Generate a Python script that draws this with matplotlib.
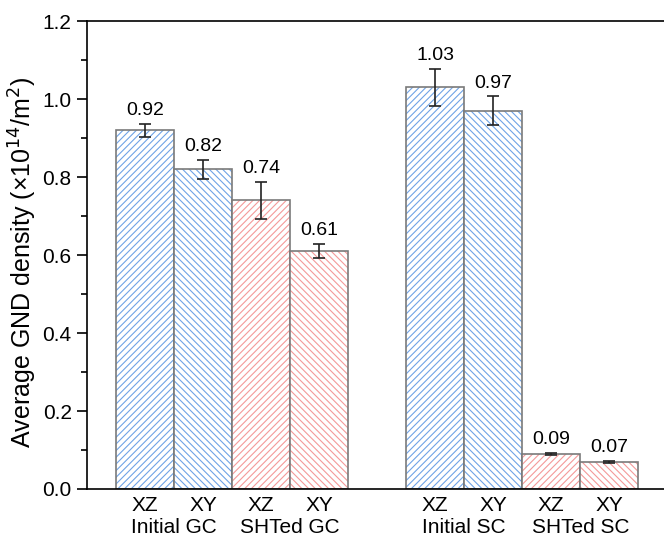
import numpy as np
import matplotlib.pyplot as plt
from matplotlib.ticker import MultipleLocator

plt.rcParams['font.family'] = ['Liberation Sans', 'DejaVu Sans']
plt.rcParams['hatch.linewidth'] = 0.8

# GND density per sample and plane
groups = ["Initial GC", "SHTed GC", "Initial SC", "SHTed SC"]
planes = ["XZ", "XY", "XZ", "XY", "XZ", "XY", "XZ", "XY"]
values = [0.92, 0.82, 0.74, 0.61, 1.03, 0.97, 0.09, 0.07]
errors = [0.016, 0.024, 0.048, 0.018, 0.048, 0.037, 0.003, 0.003]

pos = np.array([0, 1, 2, 3, 5, 6, 7, 8])
blue = "#6fa3e6"
red = "#f49a9a"
hatch_colors = [blue, blue, red, red, blue, blue, red, red]
hatches = ["/////", "\\\\\\\\\\", "/////", "\\\\\\\\\\"] * 2

fig = plt.figure(figsize=(6.64, 5.39), dpi=100)
ax = fig.add_axes([0.131, 0.0928, 0.874, 0.868])

for x, v, e, c, h in zip(pos, values, errors, hatch_colors, hatches):
    ax.bar(x, v, width=1.0, facecolor="white", edgecolor=c, hatch=h,
           linewidth=0)
    ax.bar(x, v, width=1.0, facecolor="none", edgecolor="#7a7a7a",
           linewidth=1.2)
    ax.errorbar(x, v, yerr=e, fmt="none", ecolor="#222222", elinewidth=1.2,
                capsize=4, capthick=1.2)
    ax.text(x, v + e + 0.012, f"{v:.2f}", ha="center", va="bottom",
            fontsize=14)

ax.set_xlim(-1, 9)
ax.set_ylim(0, 1.2)
ax.set_xticks(pos)
ax.set_xticklabels(planes, fontsize=15)
ax.tick_params(axis="x", length=0, pad=5)
ax.yaxis.set_major_locator(MultipleLocator(0.2))
ax.yaxis.set_minor_locator(MultipleLocator(0.1))
ax.yaxis.set_major_formatter(plt.FormatStrFormatter("%.1f"))
ax.tick_params(axis="y", which="major", direction="out", length=7,
               width=1.2, labelsize=15, pad=4)
ax.tick_params(axis="y", which="minor", direction="out", length=4, width=1.2)
for s in ax.spines.values():
    s.set_linewidth(1.2)

# group names under the plane labels
for g, x in zip(groups, [0.5, 2.5, 5.5, 7.5]):
    ax.text(x, -0.098, g, ha="center", va="center", fontsize=15)

ax.set_ylabel("Average GND density (×10$^{14}$/m$^2$)", fontsize=18)
ax.yaxis.set_label_coords(-0.082, 0.485)

fig.savefig("out.png", dpi=100)
